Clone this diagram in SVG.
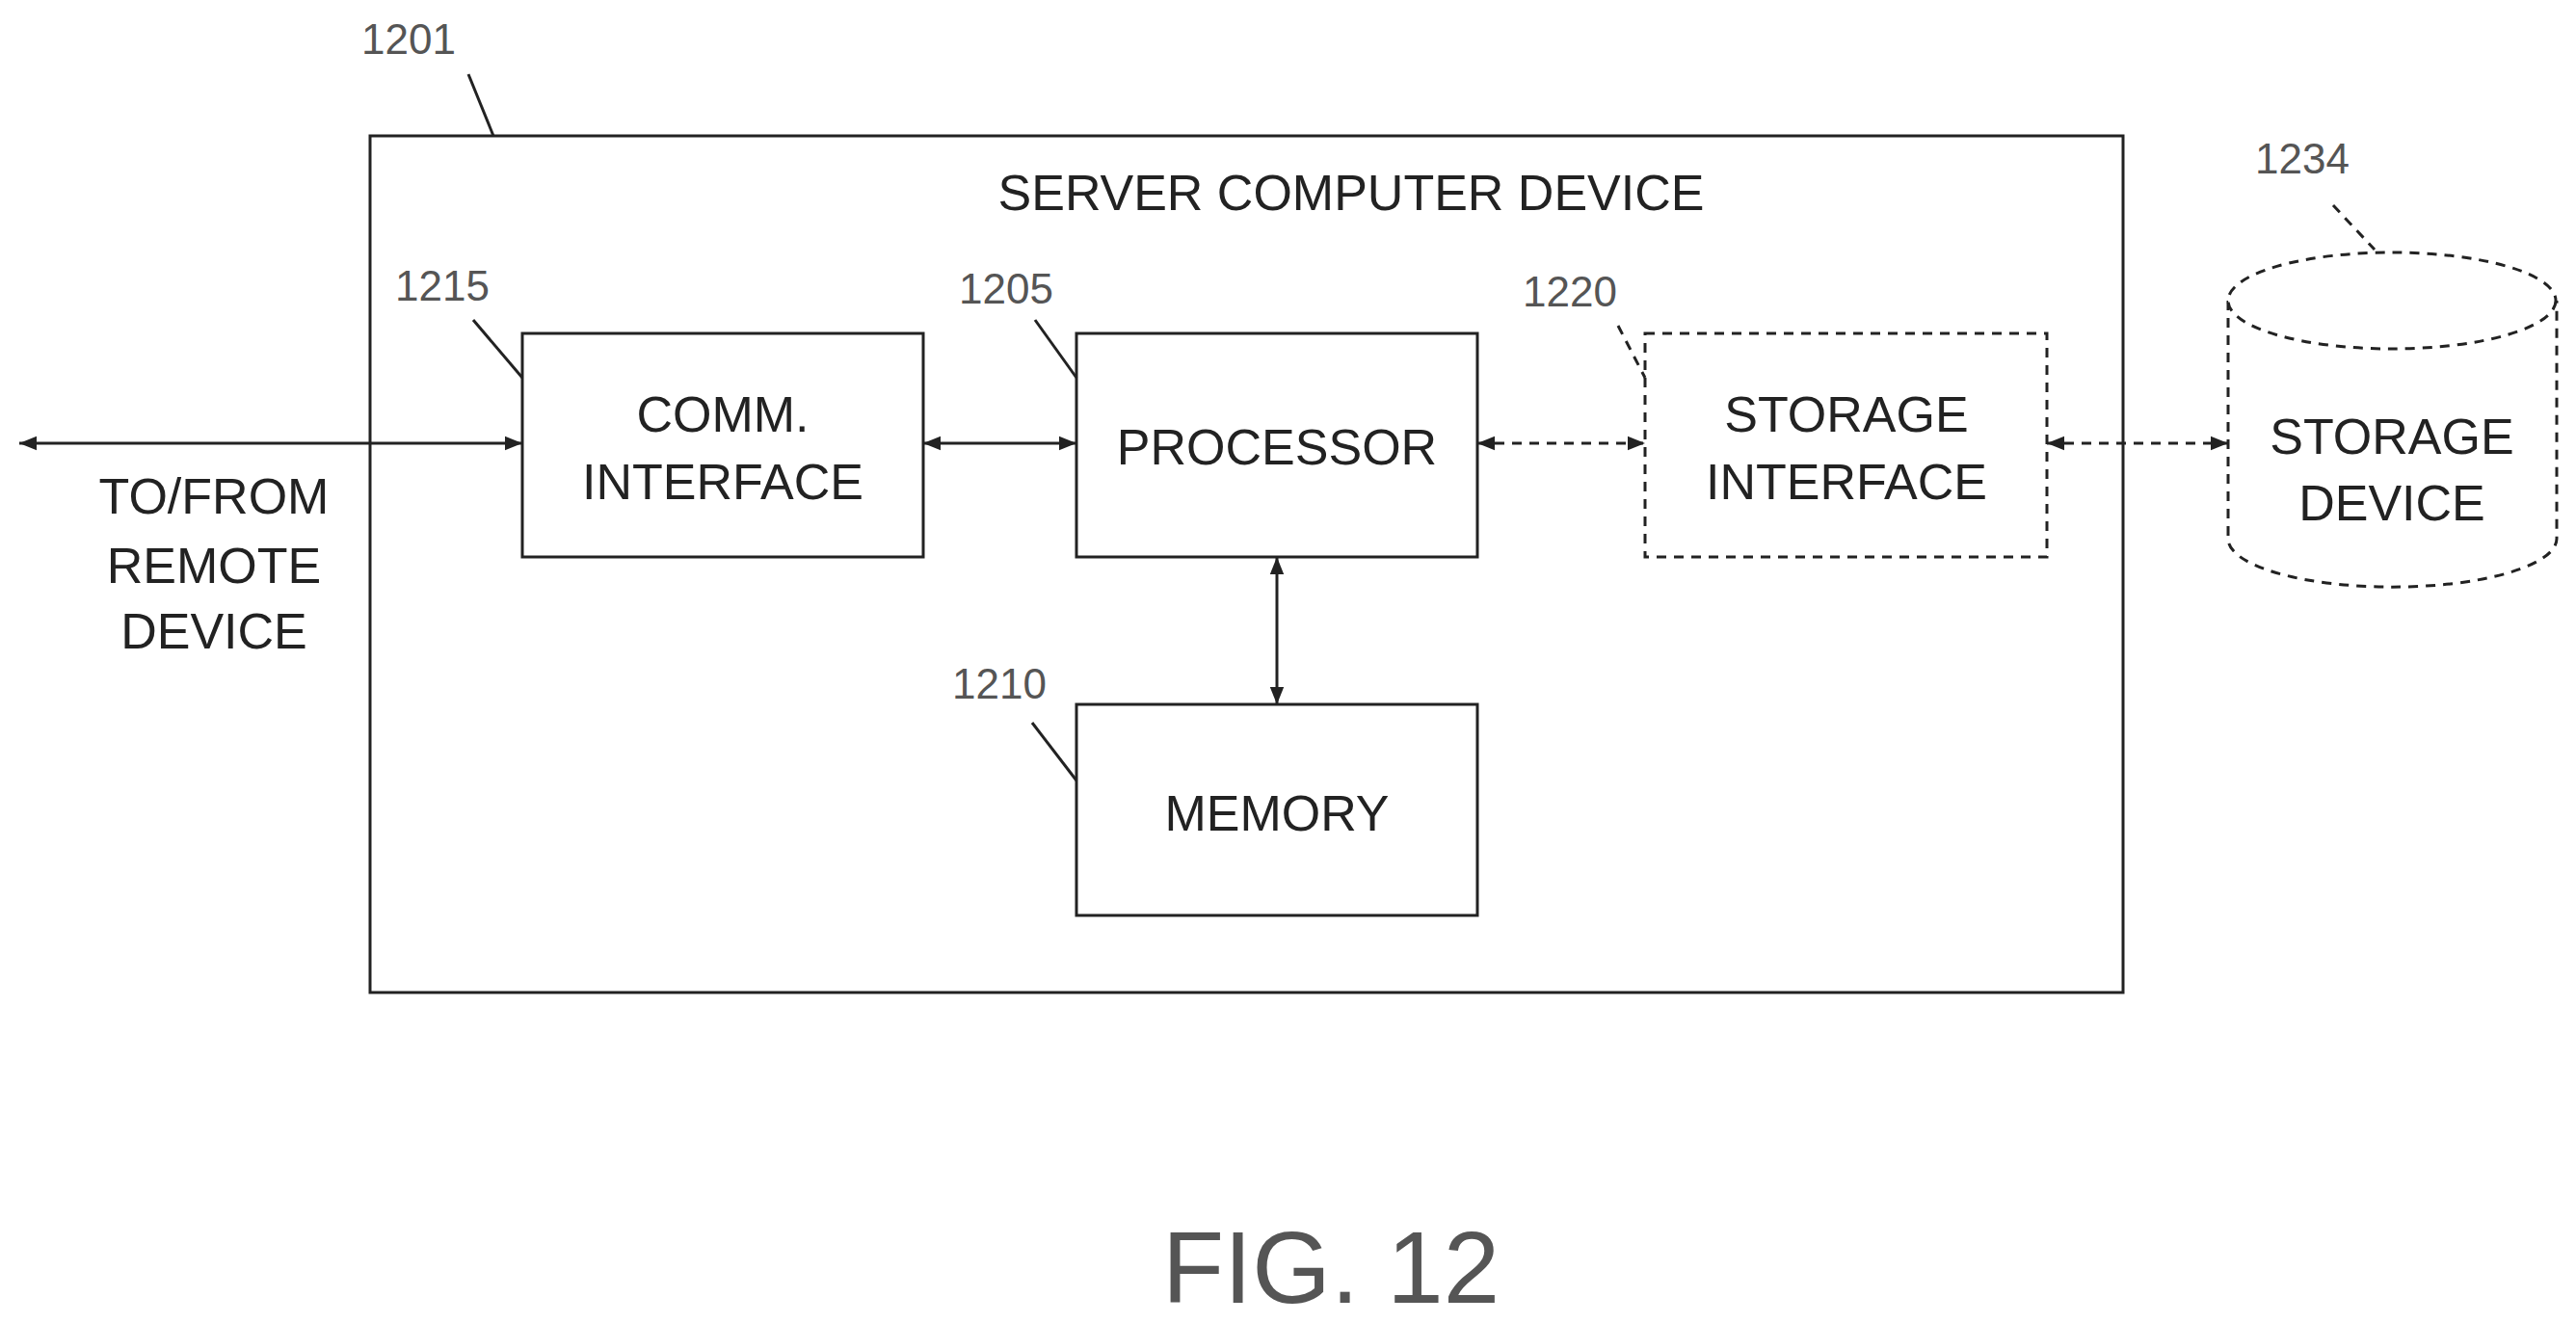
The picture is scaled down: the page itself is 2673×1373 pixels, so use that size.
<svg xmlns="http://www.w3.org/2000/svg" width="2673" height="1373" viewBox="0 0 2673 1373">
<defs>
<marker id="a" viewBox="0 0 10 10" refX="10" refY="5" markerWidth="6" markerHeight="6" orient="auto-start-reverse"><path d="M0,1 L10,5 L0,9 z" fill="#222"/></marker>
<style>
.b{fill:#fff;stroke:#222;stroke-width:3}
.d{stroke-dasharray:10,8}
.t{font-family:"Liberation Sans",Arial,sans-serif;font-size:52px;fill:#222;text-anchor:middle}
.n{font-family:"Liberation Sans",Arial,sans-serif;font-size:44px;fill:#555}
.l{stroke:#222;stroke-width:3;fill:none}
</style>
</defs>
<rect width="2673" height="1373" fill="#fff"/>
<g id="server"><rect class="b" x="384" y="141" width="1819" height="889"/><text class="t" x="1402" y="218">SERVER COMPUTER DEVICE</text><text class="n" x="375" y="56">1201</text><path class="l" d="M486 77 L512 141"/></g>
<g id="comm"><rect class="b" x="542" y="346" width="416" height="232"/><text class="t" x="750" y="448">COMM.</text><text class="t" x="750" y="518">INTERFACE</text><text class="n" x="410" y="312">1215</text><path class="l" d="M491 332 L542 392"/></g>
<g id="processor"><rect class="b" x="1117" y="346" width="416" height="232"/><text class="t" x="1325" y="482">PROCESSOR</text><text class="n" x="995" y="315">1205</text><path class="l" d="M1074 332 L1117 392"/></g>
<g id="storageif"><rect class="b d" x="1707" y="346" width="417" height="232"/><text class="t" x="1916" y="448">STORAGE</text><text class="t" x="1916" y="518">INTERFACE</text><text class="n" x="1580" y="318">1220</text><path class="l d" d="M1679 338 L1707 392"/></g>
<g id="memory"><rect class="b" x="1117" y="731" width="416" height="219"/><text class="t" x="1325" y="862">MEMORY</text><text class="n" x="988" y="725">1210</text><path class="l" d="M1071 750 L1117 810"/></g>
<g id="storage"><path class="b d" d="M2312 312 L2312 559 A170 50 0 0 0 2653 559 L2653 312"/><ellipse class="b d" cx="2482" cy="312" rx="170" ry="50"/><text class="t" x="2482" y="471">STORAGE</text><text class="t" x="2482" y="540">DEVICE</text><text class="n" x="2340" y="180">1234</text><path class="l d" d="M2421 213 L2464 259"/></g>
<g id="remote"><text class="t" x="222" y="533">TO/FROM</text><text class="t" x="222" y="605">REMOTE</text><text class="t" x="222" y="673">DEVICE</text></g>
<g id="connectors">
<path class="l" d="M20 460 L542 460" marker-start="url(#a)" marker-end="url(#a)"/>
<path class="l" d="M958 460 L1117 460" marker-start="url(#a)" marker-end="url(#a)"/>
<path class="l d" d="M1533 460 L1707 460" marker-start="url(#a)" marker-end="url(#a)"/>
<path class="l d" d="M2124 460 L2312 460" marker-start="url(#a)" marker-end="url(#a)"/>
<path class="l" d="M1325 578 L1325 731" marker-start="url(#a)" marker-end="url(#a)"/>
</g>
<text x="1381" y="1352" style="font-family:'Liberation Sans',Arial,sans-serif;font-size:105px;fill:#555;text-anchor:middle">FIG. 12</text>
</svg>
